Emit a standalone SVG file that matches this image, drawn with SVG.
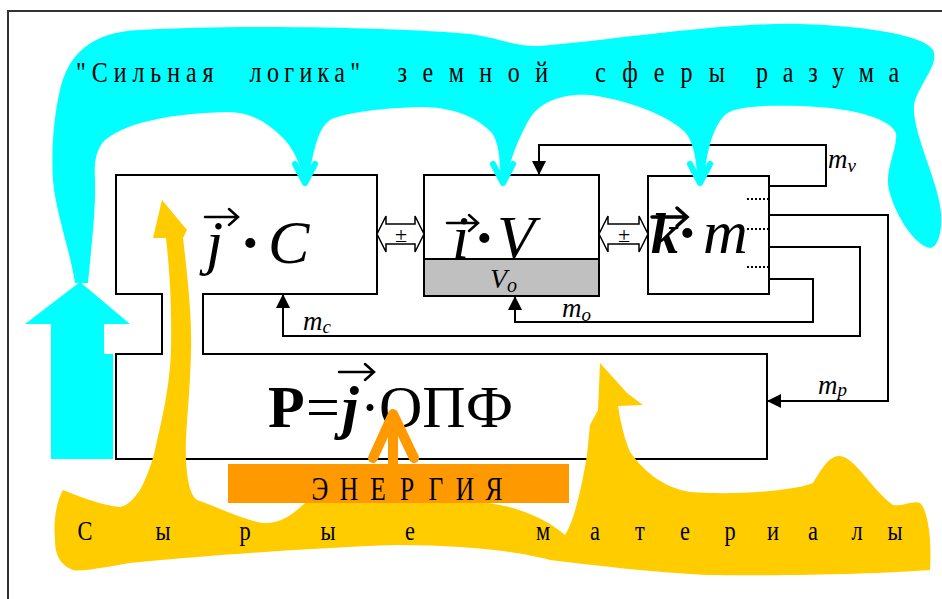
<svg xmlns="http://www.w3.org/2000/svg" width="942" height="599" viewBox="0 0 942 599">
<defs>
<style>
.ln{fill:none;stroke:#000;stroke-width:2}
.conn{fill:none;stroke:#000;stroke-width:2;marker-end:url(#ah)}
.serif{font-family:"Liberation Serif","DejaVu Serif","Times New Roman",serif;fill:#000}
.it{font-style:italic}
.bd{font-weight:bold}
.ov{fill:none;stroke:#000;stroke-width:2.5;stroke-linecap:round;stroke-linejoin:miter}
.dbl{fill:#fff;stroke:#000;stroke-width:1.5}
.chev{fill:none;stroke:#00FFFF;stroke-width:6;stroke-linecap:round;stroke-linejoin:round}
.dot{stroke:#000;stroke-width:2;stroke-dasharray:2 2}
</style>
<marker id="ah" markerWidth="14" markerHeight="14" refX="14" refY="7" orient="auto" markerUnits="userSpaceOnUse">
<path d="M0,0 L14,7 L0,14 Z" fill="#000"/>
</marker>
</defs>
<rect width="942" height="599" fill="#fff"/>
<g id="frame"><path d="M8,599 V11 H942" fill="none" stroke="#333" stroke-width="2"/></g>

<g id="node-jc-p">
<path class="ln" d="M116,175 H377 V294 H203 V354 H767 V459 H116 V354 H162 V294 H116 Z"/>
<text class="serif it" font-size="62" x="206" y="263">j</text>
<text class="serif bd" font-size="62" x="240" y="263">·</text>
<text class="serif it" font-size="62" x="268" y="263">C</text>
<path class="ov" d="M205,217 H237 M229,209 L238,217 L229,225"/>
<text class="serif" font-size="60" y="427"><tspan class="bd" x="268">P</tspan><tspan x="306">=</tspan><tspan class="bd it" x="342">j</tspan><tspan x="360">·</tspan><tspan x="379">ОПФ</tspan></text>
<path class="ov" d="M339,372 H373 M365,364 L374,372 L365,380"/>
</g>

<g id="node-iv">
<rect class="ln" x="424" y="175" width="175" height="121"/>
<rect x="424" y="259" width="175" height="37" fill="#C0C0C0" stroke="#000" stroke-width="2"/>
<text class="serif it" font-size="62" x="452" y="258">i</text>
<text class="serif bd" font-size="62" x="474" y="258">·</text>
<text class="serif it" font-size="62" x="497" y="258">V</text>
<path class="ov" d="M447,223 H477 M469,215 L478,223 L469,231"/>
<text class="serif it" font-size="28" x="490" y="288">V<tspan font-size="20" dy="4">o</tspan></text>
</g>

<g id="node-km">
<rect class="ln" x="648" y="176" width="121" height="118"/>
<path class="dot" d="M747,199 H769 M747,229 H769 M747,267 H769"/>
<text class="serif it bd" font-size="56" x="651" y="253">k</text>
<text class="serif bd" font-size="62" x="677" y="253">·</text>
<text class="serif it" font-size="62" x="703" y="253">m</text>
<path class="ov" style="stroke-width:3.5" d="M652,217 H686 M677,208 L687,217 L677,226"/>
</g>

<g id="connectors">
<path class="conn" d="M769,186 H826 V145 H539 V175"/>
<path class="conn" d="M769,215 H888 V401 H767"/>
<path class="conn" d="M769,247 H860 V336 H283 V294"/>
<path class="conn" d="M769,279 H813 V322 H515 V296"/>
<path class="dbl" d="M377,234 L386,216 L386,224 L415,224 L415,216 L424,234 L415,252 L415,244 L386,244 L386,252 Z"/>
<text class="serif" font-size="22" x="401" y="242" text-anchor="middle">±</text>
<path class="dbl" d="M599,234 L608,216 L608,224 L639,224 L639,216 L648,234 L639,252 L639,244 L608,244 L608,252 Z"/>
<text class="serif" font-size="22" x="624" y="242" text-anchor="middle">±</text>
<text class="serif it" font-size="27" x="828" y="168">m<tspan font-size="19" dy="4">v</tspan></text>
<text class="serif it" font-size="27" x="562" y="317">m<tspan font-size="19" dy="4">o</tspan></text>
<text class="serif it" font-size="27" x="303" y="330">m<tspan font-size="19" dy="3">c</tspan></text>
<text class="serif it" font-size="27" x="818" y="394">m<tspan font-size="19" dy="2">p</tspan></text>
</g>

<g id="reason-sphere">
<path fill="#00FFFF" d="M88,283 L75,283 C70,250 55,210 53,180 C51,150 54,115 60,90 C68,55 90,32 140,30 C250,24 400,28 470,34 C500,38 515,47 540,46 C600,42 720,22 800,24 C870,26 925,36 933,50 C940,65 918,85 914,105 C912,130 935,175 940,205 C944,230 938,248 930,248 C915,246 895,215 889,190 C884,170 898,148 896,133 C890,120 860,108 800,106 C765,105 735,106 725,115 C712,128 708,150 704,175 L697,175 C696,155 692,140 685,132 C670,117 630,100 590,95 C560,93 540,103 530,118 C520,135 512,155 507,175 L500,175 C500,155 498,142 492,133 C475,115 450,107 420,107 C385,108 345,112 330,120 C318,128 314,150 309,175 L302,175 C299,160 292,148 285,140 C268,122 250,112 228,112 C180,113 130,120 105,140 C95,150 94,165 95,180 C96,210 91,250 88,283 Z"/>
<path class="chev" d="M295,164 L305,183 L315,164 M305,170 V183"/>
<path class="chev" d="M493,164 L503,183 L513,164 M503,170 V183"/>
<path class="chev" d="M690,164 L700,183 L710,164 M700,170 V183"/>
<path fill="#00FFFF" d="M51,459 V324 H25 L80,282 L130,324 H104 V354 H113 V459 Z"/>
<g class="serif" font-size="30" transform="scale(0.8,1)">
<text x="95" y="82" textLength="172" lengthAdjust="spacing">"Сильная</text>
<text x="312" y="82" textLength="138" lengthAdjust="spacing">логика"</text>
<text x="497" y="82" textLength="188" lengthAdjust="spacing">земной</text>
<text x="744" y="82" textLength="162" lengthAdjust="spacing">сферы</text>
<text x="945" y="82" textLength="179" lengthAdjust="spacing">разума</text>
</g>
</g>

<g id="raw-materials">
<path fill="#FFCC00" d="M162,200 L187,230 L183,238 C188,280 192,320 191,350 C190,400 185,430 186,460 C187,480 190,495 197,500 C220,508 243,520 263,523 C283,524 295,512 305,503 C340,480 450,495 505,506 C530,512 550,522 565,535 C575,520 583,480 587,455 L590,425 L598,410 L600,363 L627,393 L643,405 L618,406 C621,425 625,440 630,452 C645,473 665,488 690,492 C730,495 790,492 813,483 C822,468 830,455 840,456 C856,458 872,490 893,505 C903,507 912,500 920,503 C928,510 932,540 930,570 C880,574 780,576 707,575 C650,572 600,566 550,560 C520,552 470,545 397,545 C300,548 180,558 130,563 C100,568 80,572 73,570 C60,565 55,555 55,540 C53,520 57,500 63,490 C75,495 100,505 120,507 C128,506 134,498 140,490 C148,475 153,460 156,445 C162,420 170,385 171,350 C172,300 169,265 166,238 L153,238 Z"/>
<text class="serif" font-size="28" y="540" text-anchor="middle" transform="scale(0.8,1)" x="106.25 203.75 306.25 410 512.5 678.75 743.75 800 856.25 912.5 966.25 1016.25 1071.25 1118.75">Сырыематериалы</text>
</g>

<g id="energy">
<rect x="228" y="464" width="341" height="39" fill="#FF9900"/>
<path d="M373,458 L393,414 L414,458 M393,416 V466" fill="none" stroke="#FF9900" stroke-width="10" stroke-linecap="round" stroke-linejoin="round"/>
<text class="serif" font-size="34" y="500" text-anchor="middle" transform="scale(0.75,1)" x="426.67 465.33 504 542.67 581.33 620 658.67">ЭНЕРГИЯ</text>
</g>
</svg>
